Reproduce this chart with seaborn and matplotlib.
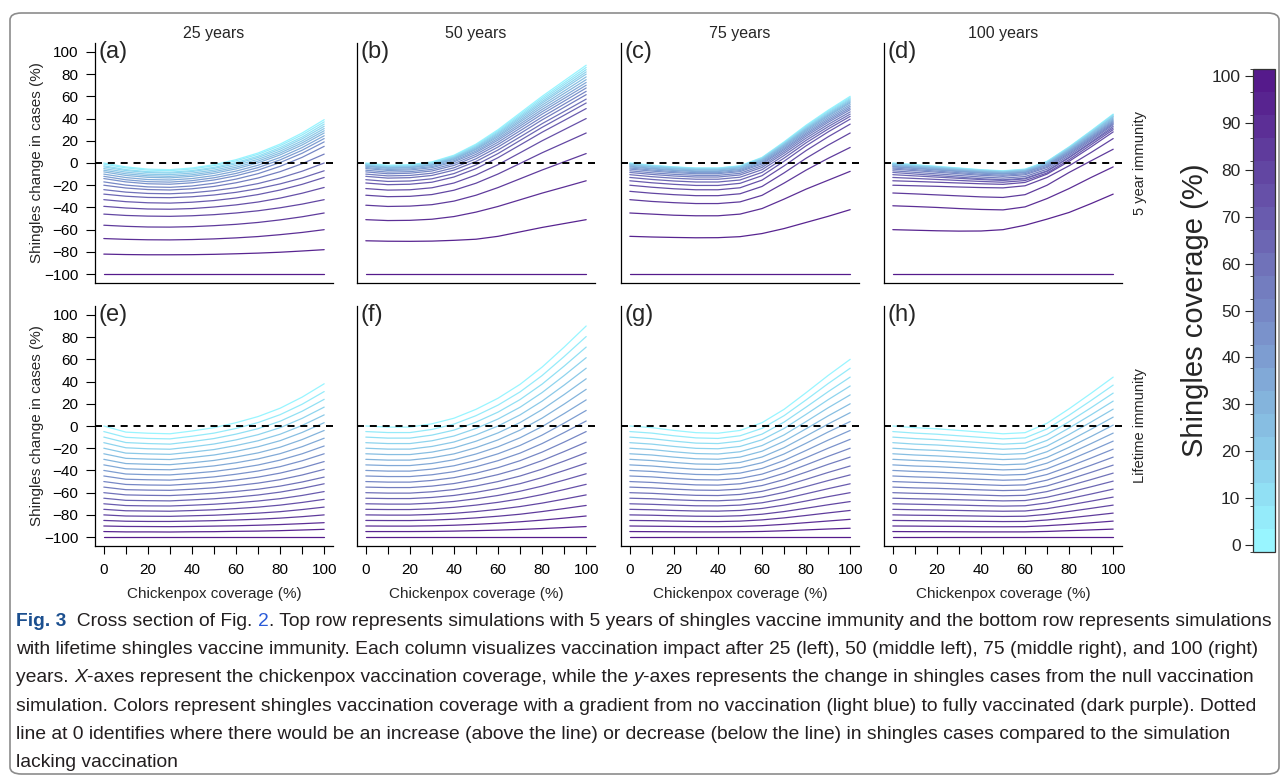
import numpy as np
import pandas as pd
import matplotlib
matplotlib.use("Agg")
import matplotlib.pyplot as plt
from matplotlib.colors import LinearSegmentedColormap, ListedColormap, BoundaryNorm
from matplotlib.cm import ScalarMappable
from matplotlib.patches import FancyBboxPatch
from matplotlib.font_manager import FontProperties
import seaborn as sns

# x grid (chickenpox coverage) and one line per shingles coverage level
chickenpox = [0, 10, 20, 30, 40, 50, 60, 70, 80, 90, 100]
shingles = [0, 5, 10, 15, 20, 25, 30, 35, 40, 45, 50, 55, 60, 65, 70, 75, 80, 85, 90, 95, 100]
years = ["25 years", "50 years", "75 years", "100 years"]
immunity = ["5 year immunity", "Lifetime immunity"]
tags = ["(a)", "(b)", "(c)", "(d)", "(e)", "(f)", "(g)", "(h)"]
cbar_ticks = [0, 10, 20, 30, 40, 50, 60, 70, 80, 90, 100]

# change in shingles cases (%), rows = shingles coverage 0..100, cols = chickenpox 0..100
five_25 = [
    [0, -3.5, -5.5, -6, -4.5, -1.5, 3, 9, 17, 27, 39],
    [-1, -4.4, -6.4, -6.9, -5.4, -2.4, 1.9, 7.8, 15.6, 25.3, 37],
    [-2.5, -5.9, -7.8, -8.3, -6.8, -3.9, 0.4, 6.2, 13.9, 23.4, 35],
    [-3.5, -6.8, -8.6, -9.1, -7.7, -4.9, -0.7, 4.9, 12.4, 21.8, 33],
    [-5, -8.2, -10.1, -10.5, -9.1, -6.4, -2.2, 3.3, 10.7, 19.9, 31],
    [-6.5, -9.7, -11.5, -12, -10.6, -7.8, -3.8, 1.7, 9, 18.1, 29],
    [-8, -11.2, -12.9, -13.4, -12, -9.3, -5.3, 0.1, 7.3, 16.2, 27],
    [-10, -13.1, -14.9, -15.3, -14, -11.3, -7.3, -2, 5, 13.9, 24.5],
    [-12, -15.1, -16.8, -17.2, -15.9, -13.3, -9.4, -4.1, 2.8, 11.5, 22],
    [-14, -17, -18.7, -19.1, -17.8, -15.3, -11.5, -6.4, 0.4, 8.8, 19],
    [-17, -19.9, -21.5, -21.9, -20.7, -18.2, -14.5, -9.6, -3, 5.1, 15],
    [-20, -22.5, -23.9, -24.3, -23.2, -21.1, -17.8, -13.5, -7.8, -0.6, 8],
    [-24, -26.2, -27.4, -27.7, -26.8, -24.9, -22.2, -18.5, -13.5, -7.4, 0],
    [-28, -29.9, -31, -31.2, -30.4, -28.8, -26.4, -23.1, -18.8, -13.5, -7],
    [-33, -34.8, -35.8, -36.1, -35.3, -33.8, -31.5, -28.4, -24.3, -19.2, -13],
    [-39, -40.5, -41.4, -41.6, -41, -39.6, -37.7, -35.1, -31.6, -27.2, -22],
    [-46, -47.2, -47.8, -48, -47.5, -46.5, -45, -43, -40.3, -37, -33],
    [-56, -57, -57.6, -57.7, -57.3, -56.4, -55.2, -53.5, -51.2, -48.4, -45],
    [-68, -68.7, -69.1, -69.2, -68.9, -68.3, -67.4, -66.2, -64.5, -62.5, -60],
    [-82, -82.4, -82.6, -82.6, -82.5, -82.2, -81.7, -81.1, -80.3, -79.2, -78],
    [-100, -100, -100, -100, -100, -100, -100, -100, -100, -100, -100],
]
five_50 = [
    [0, -2, -1.5, 1, 7, 17, 30, 45, 60, 74, 88],
    [-0.5, -2.5, -2, 0.5, 6.4, 16.2, 29, 43.7, 58.5, 72.2, 86],
    [-1, -3, -2.4, -0.1, 5.8, 15.4, 28, 42.4, 57, 70.5, 84],
    [-1.5, -3.4, -2.9, -0.6, 5.2, 14.6, 27, 41.2, 55.4, 68.7, 82],
    [-2, -3.9, -3.4, -1.1, 4.6, 13.8, 26, 39.9, 53.9, 67, 80],
    [-2.5, -4.3, -3.9, -1.6, 3.9, 12.9, 24.8, 38.4, 52.1, 64.8, 77.5],
    [-3, -4.8, -4.3, -2.1, 3.2, 12.1, 23.6, 36.9, 50.2, 62.6, 75],
    [-4, -5.8, -5.3, -3.2, 2.1, 10.8, 22.1, 35.1, 48.2, 60.3, 72.5],
    [-5, -6.7, -6.3, -4.2, 1, 9.5, 20.6, 33.3, 46.2, 58.1, 70],
    [-6.5, -8.2, -7.8, -5.7, -0.6, 7.8, 18.7, 31.3, 44, 55.7, 67.5],
    [-8, -9.7, -9.2, -7.2, -2.2, 6, 16.7, 29, 41.4, 53, 64.5],
    [-10, -11.6, -11.2, -9.2, -4.3, 3.8, 14.4, 26.5, 38.8, 50.1, 61.5],
    [-12, -13.6, -13.2, -11.2, -6.4, 1.4, 11.7, 23.5, 35.4, 46.4, 57.5],
    [-15, -16.6, -16.2, -14.2, -9.5, -1.7, 8.5, 20.3, 32.1, 43, 54],
    [-18, -19.5, -19.1, -17.3, -12.6, -5.1, 4.8, 16.2, 27.7, 38.3, 49],
    [-23, -24.4, -24.1, -22.3, -18, -10.8, -1.5, 9.2, 20, 30, 40],
    [-29, -30.3, -30, -28.4, -24.5, -18.2, -9.9, -0.4, 9.2, 18.1, 27],
    [-38, -39.1, -38.8, -37.5, -34.3, -29, -22.1, -14.2, -6.3, 1.1, 8.5],
    [-51, -51.8, -51.6, -50.6, -48.2, -44.2, -39.1, -33.1, -27.1, -21.6, -16],
    [-70, -70.4, -70.5, -70.3, -69.6, -68.6, -66, -62, -58, -54.5, -51],
    [-100, -100, -100, -100, -100, -100, -100, -100, -100, -100, -100],
]
five_75 = [
    [0, -2, -3.5, -4.5, -4.5, -2.5, 5, 19, 34, 47.5, 60],
    [-0.3, -2.3, -3.7, -4.7, -4.7, -2.8, 4.6, 18.5, 33.3, 46.7, 59],
    [-0.6, -2.5, -4, -5, -5, -3.1, 4.3, 18, 32.6, 45.8, 58],
    [-1, -2.9, -4.4, -5.4, -5.4, -3.4, 3.8, 17.4, 31.9, 44.9, 57],
    [-1.5, -3.4, -4.8, -5.8, -5.8, -3.9, 3.3, 16.7, 31.1, 44, 56],
    [-2, -3.9, -5.3, -6.3, -6.3, -4.4, 2.7, 16.1, 30.3, 43.1, 55],
    [-2.8, -4.7, -6.1, -7.1, -7.1, -5.2, 1.9, 15.2, 29.4, 42.2, 54],
    [-3.5, -5.3, -6.7, -7.7, -7.7, -5.9, 1.1, 14.3, 28.3, 40.9, 52.5],
    [-4.5, -6.3, -7.7, -8.7, -8.7, -6.8, 0.1, 13.1, 27, 39.5, 51],
    [-5.5, -7.3, -8.7, -9.6, -9.6, -7.8, -0.9, 11.9, 25.7, 38.1, 49.5],
    [-7, -8.8, -10.2, -11.1, -11.1, -9.3, -2.4, 10.4, 24.2, 36.6, 48],
    [-8.5, -10.3, -11.7, -12.6, -12.6, -10.8, -4, 8.8, 22.4, 34.7, 46],
    [-10.5, -12.3, -13.7, -14.6, -14.6, -12.8, -6, 6.8, 20.4, 32.7, 44],
    [-13, -14.8, -16.2, -17.1, -17.1, -15.3, -8.4, 4.4, 18.2, 30.6, 42],
    [-16, -17.8, -19.2, -20.2, -20.2, -18.3, -11.4, 1.6, 15.5, 28, 39.5],
    [-20, -21.8, -23.2, -24.1, -24.1, -22.3, -15.4, -2.6, 11.2, 23.6, 35],
    [-25.5, -27.2, -28.5, -29.4, -29.4, -27.7, -21.1, -8.9, 4.3, 16.1, 27],
    [-33, -34.6, -35.7, -36.5, -36.5, -35, -29.1, -18.1, -6.4, 4.2, 14],
    [-45, -46, -47, -47.5, -47.5, -46, -41, -32.5, -23.5, -15.5, -7.5],
    [-66, -66.6, -67, -67.3, -67.2, -66.3, -63.5, -59, -53.5, -48, -42],
    [-100, -100, -100, -100, -100, -100, -100, -100, -100, -100, -100],
]
five_100 = [
    [0, -1.5, -3, -4.5, -6, -7, -5.5, 1.5, 14.5, 29, 44],
    [-0.3, -1.8, -3.3, -4.8, -6.3, -7.3, -5.8, 1.2, 14.2, 28.6, 43.5],
    [-0.6, -2.1, -3.6, -5, -6.5, -7.5, -6.1, 0.9, 13.8, 28.1, 43],
    [-1, -2.5, -3.9, -5.4, -6.8, -7.8, -6.4, 0.5, 13.2, 27.3, 42],
    [-1.3, -2.8, -4.2, -5.7, -7.1, -8.1, -6.7, 0.2, 12.8, 26.9, 41.5],
    [-1.8, -3.2, -4.7, -6.1, -7.6, -8.5, -7.1, -0.4, 12.2, 26.1, 40.5],
    [-2.3, -3.7, -5.1, -6.6, -8, -8.9, -7.5, -0.9, 11.5, 25.2, 39.5],
    [-3, -4.4, -5.8, -7.2, -8.6, -9.6, -8.2, -1.6, 10.7, 24.3, 38.5],
    [-3.5, -4.9, -6.3, -7.7, -9.1, -10, -8.6, -2.1, 10, 23.5, 37.5],
    [-4.5, -5.9, -7.3, -8.7, -10.1, -11, -9.6, -3.1, 9, 22.5, 36.5],
    [-5.5, -6.9, -8.3, -9.7, -11.1, -12, -10.6, -4.1, 8, 21.5, 35.5],
    [-7, -8.4, -9.8, -11.2, -12.6, -13.6, -12.2, -5.6, 6.7, 20.3, 34.5],
    [-8.5, -9.9, -11.3, -12.7, -14.1, -15.1, -13.7, -7.1, 5.2, 18.8, 33],
    [-10.5, -11.6, -12.7, -13.8, -14.9, -15.7, -14.3, -7.5, 4.8, 18.2, 31.5],
    [-13, -13.9, -14.8, -15.7, -16.6, -17.3, -15.8, -9, 3, 16.5, 30],
    [-16, -16.6, -17.3, -18, -18.7, -19.2, -17.5, -10, 1.5, 14.5, 28],
    [-20, -20.5, -21, -21.6, -22.1, -22.4, -20.5, -13, -2.5, 9.5, 22],
    [-27, -27.8, -28.7, -29.6, -30.5, -31, -28.5, -20, -8.5, 2, 12.4],
    [-38.5, -39.2, -40, -41, -41.8, -42.2, -39.5, -32, -23, -13, -3.5],
    [-60, -60.5, -61, -61.3, -61.2, -60, -56, -50.5, -44.5, -36.5, -28],
    [-100, -100, -100, -100, -100, -100, -100, -100, -100, -100, -100],
]
life_25 = [
    [0, -5.5, -6.5, -7, -4.5, -1.5, 3, 8.5, 16, 26, 38],
    [-5, -10.2, -11.2, -11.6, -9.2, -6.4, -2.2, 3.1, 10.2, 19.6, 31],
    [-10, -14.9, -15.8, -16.3, -14, -11.3, -7.3, -2.4, 4.3, 13.3, 24],
    [-15, -19.6, -20.5, -20.9, -18.8, -16.2, -12.5, -7.8, -1.5, 6.9, 17],
    [-20, -24.4, -25.1, -25.5, -23.5, -21.2, -17.6, -13.3, -7.4, 0.5, 10],
    [-25, -29.1, -29.8, -30.2, -28.3, -26.1, -22.8, -18.7, -13.2, -5.8, 3],
    [-30, -33.8, -34.4, -34.8, -33.1, -31, -27.9, -24.2, -19.1, -12.2, -4],
    [-35, -38.5, -39.1, -39.4, -37.8, -35.9, -33.1, -29.6, -24.9, -18.6, -11],
    [-40, -43.2, -43.8, -44, -42.6, -40.9, -38.3, -35.1, -30.7, -25, -18],
    [-45, -47.9, -48.4, -48.7, -47.4, -45.8, -43.4, -40.5, -36.6, -31.3, -25],
    [-50, -52.6, -53.1, -53.3, -52.1, -50.7, -48.6, -46, -42.4, -37.7, -32],
    [-55, -57.3, -57.7, -57.9, -56.9, -55.6, -53.7, -51.4, -48.3, -44.1, -39],
    [-60, -62, -62.4, -62.6, -61.7, -60.5, -58.9, -56.9, -54.1, -50.4, -46],
    [-65, -66.9, -67.2, -67.4, -66.5, -65.5, -64, -62.1, -59.5, -56.1, -52],
    [-70, -71.6, -71.9, -72, -71.3, -70.4, -69.1, -67.5, -65.4, -62.5, -59],
    [-75, -76.3, -76.5, -76.7, -76.1, -75.4, -74.3, -73, -71.2, -68.8, -66],
    [-80, -81, -81.2, -81.3, -80.8, -80.3, -79.4, -78.4, -77.1, -75.2, -73],
    [-85, -85.7, -85.9, -85.9, -85.6, -85.2, -84.6, -83.9, -82.9, -81.6, -80],
    [-90, -90.4, -90.5, -90.6, -90.4, -90.1, -89.8, -89.3, -88.7, -87.9, -87],
    [-95, -95.3, -95.3, -95.4, -95.2, -95.1, -94.8, -94.6, -94.2, -93.6, -93],
    [-100, -100, -100, -100, -100, -100, -100, -100, -100, -100, -100],
]
life_50 = [
    [0, -1, -1, 2, 7, 15, 25, 37.5, 53, 71, 90],
    [-5, -5.9, -5.9, -3.1, 1.7, 9.3, 18.8, 30.7, 45.4, 62.5, 80.5],
    [-10, -10.9, -10.9, -8.2, -3.7, 3.5, 12.5, 23.8, 37.7, 53.9, 71],
    [-15, -15.8, -15.8, -13.3, -9, -2.2, 6.3, 16.9, 30.1, 45.4, 61.5],
    [-20, -20.8, -20.8, -18.4, -14.4, -8, 0, 10, 22.4, 36.8, 52],
    [-25, -25.7, -25.7, -23.5, -19.7, -13.7, -6.2, 3.1, 14.8, 28.3, 42.5],
    [-30, -30.7, -30.7, -28.6, -25.1, -19.5, -12.5, -3.7, 7.1, 19.7, 33],
    [-35, -35.6, -35.6, -33.7, -30.4, -25.2, -18.7, -10.6, -0.5, 11.2, 23.5],
    [-40, -40.6, -40.6, -38.8, -35.8, -31, -25, -17.5, -8.2, 2.6, 14],
    [-45, -45.5, -45.5, -43.9, -41.1, -36.7, -31.2, -24.4, -15.8, -5.9, 4.5],
    [-50, -50.5, -50.5, -49, -46.5, -42.5, -37.5, -31.2, -23.5, -14.5, -5],
    [-55, -55.4, -55.4, -54.1, -51.8, -48.2, -43.7, -38.1, -31.1, -23, -14.5],
    [-60, -60.4, -60.4, -59.2, -57.2, -54, -50, -45, -38.8, -31.6, -24],
    [-65, -65.3, -65.3, -64.3, -62.5, -59.7, -56.2, -51.9, -46.4, -40.1, -33.5],
    [-70, -70.3, -70.3, -69.4, -67.9, -65.5, -62.5, -58.7, -54.1, -48.7, -43],
    [-75, -75.2, -75.2, -74.5, -73.2, -71.2, -68.7, -65.6, -61.7, -57.2, -52.5],
    [-80, -80.2, -80.2, -79.6, -78.6, -77, -75, -72.5, -69.4, -65.8, -62],
    [-85, -85.1, -85.1, -84.7, -83.9, -82.7, -81.2, -79.4, -77, -74.3, -71.5],
    [-90, -90.1, -90.1, -89.8, -89.3, -88.5, -87.5, -86.2, -84.7, -82.9, -81],
    [-95, -95, -95, -94.9, -94.6, -94.2, -93.7, -93.1, -92.3, -91.4, -90.5],
    [-100, -100, -100, -100, -100, -100, -100, -100, -100, -100, -100],
]
life_75 = [
    [0, -1.5, -4, -6, -6.5, -4, 3, 15, 30, 45.5, 60],
    [-5, -6.4, -8.8, -10.7, -11.2, -8.8, -2.1, 9.3, 23.5, 38.2, 52],
    [-10, -11.4, -13.6, -15.4, -15.8, -13.6, -7.3, 3.5, 17, 30.9, 44],
    [-15, -16.3, -18.4, -20.1, -20.5, -18.4, -12.4, -2.2, 10.5, 23.7, 36],
    [-20, -21.2, -23.2, -24.8, -25.2, -23.2, -17.6, -8, 4, 16.4, 28],
    [-25, -26.1, -28, -29.5, -29.9, -28, -22.7, -13.7, -2.5, 9.1, 20],
    [-30, -31.1, -32.8, -34.2, -34.5, -32.8, -27.9, -19.5, -9, 1.8, 12],
    [-35, -36, -37.6, -38.9, -39.2, -37.6, -33, -25.2, -15.5, -5.4, 4],
    [-40, -40.9, -42.4, -43.6, -43.9, -42.4, -38.2, -31, -22, -12.7, -4],
    [-45, -45.8, -47.2, -48.3, -48.6, -47.2, -43.3, -36.7, -28.5, -20, -12],
    [-50, -50.8, -52, -53, -53.2, -52, -48.5, -42.5, -35, -27.3, -20],
    [-55, -55.7, -56.8, -57.7, -57.9, -56.8, -53.6, -48.2, -41.5, -34.5, -28],
    [-60, -60.6, -61.6, -62.4, -62.6, -61.6, -58.8, -54, -48, -41.8, -36],
    [-65, -65.5, -66.4, -67.1, -67.3, -66.4, -63.9, -59.7, -54.5, -49.1, -44],
    [-70, -70.5, -71.2, -71.8, -71.9, -71.2, -69.1, -65.5, -61, -56.4, -52],
    [-75, -75.4, -76, -76.5, -76.6, -76, -74.2, -71.2, -67.5, -63.6, -60],
    [-80, -80.3, -80.8, -81.2, -81.3, -80.8, -79.4, -77, -74, -70.9, -68],
    [-85, -85.2, -85.6, -85.9, -86, -85.6, -84.5, -82.7, -80.5, -78.2, -76],
    [-90, -90.2, -90.4, -90.6, -90.6, -90.4, -89.7, -88.5, -87, -85.5, -84],
    [-95, -95.1, -95.2, -95.3, -95.3, -95.2, -94.9, -94.3, -93.5, -92.7, -92],
    [-100, -100, -100, -100, -100, -100, -100, -100, -100, -100, -100],
]
life_100 = [
    [0, -1.5, -2.5, -4, -5.5, -7, -6, 2.5, 15.5, 29.5, 44],
    [-5, -6.4, -7.4, -8.8, -10.2, -11.6, -10.7, -2.6, 9.7, 23, 36.8],
    [-10, -11.3, -12.3, -13.6, -15, -16.3, -15.4, -7.7, 3.9, 16.5, 29.6],
    [-15, -16.3, -17.1, -18.4, -19.7, -20.9, -20.1, -12.9, -1.8, 10.1, 22.4],
    [-20, -21.2, -22, -23.2, -24.4, -25.6, -24.8, -18, -7.6, 3.6, 15.2],
    [-25, -26.1, -26.9, -28, -29.1, -30.2, -29.5, -23.1, -13.4, -2.9, 8],
    [-30, -31, -31.8, -32.8, -33.9, -34.9, -34.2, -28.2, -19.2, -9.4, 0.8],
    [-35, -36, -36.6, -37.6, -38.6, -39.5, -38.9, -33.4, -24.9, -15.8, -6.4],
    [-40, -40.9, -41.5, -42.4, -43.3, -44.2, -43.6, -38.5, -30.7, -22.3, -13.6],
    [-45, -45.8, -46.4, -47.2, -48, -48.8, -48.3, -43.6, -36.5, -28.8, -20.8],
    [-50, -50.7, -51.3, -52, -52.8, -53.5, -53, -48.7, -42.3, -35.3, -28],
    [-55, -55.7, -56.1, -56.8, -57.5, -58.1, -57.7, -53.9, -48, -41.7, -35.2],
    [-60, -60.6, -61, -61.6, -62.2, -62.8, -62.4, -59, -53.8, -48.2, -42.4],
    [-65, -65.5, -65.9, -66.4, -66.9, -67.4, -67.1, -64.1, -59.6, -54.7, -49.6],
    [-70, -70.4, -70.8, -71.2, -71.7, -72.1, -71.8, -69.2, -65.4, -61.2, -56.8],
    [-75, -75.4, -75.6, -76, -76.4, -76.7, -76.5, -74.4, -71.1, -67.6, -64],
    [-80, -80.3, -80.5, -80.8, -81.1, -81.4, -81.2, -79.5, -76.9, -74.1, -71.2],
    [-85, -85.2, -85.4, -85.6, -85.8, -86, -85.9, -84.6, -82.7, -80.6, -78.4],
    [-90, -90.1, -90.3, -90.4, -90.6, -90.7, -90.6, -89.7, -88.5, -87.1, -85.6],
    [-95, -95.1, -95.1, -95.2, -95.3, -95.3, -95.3, -94.9, -94.2, -93.5, -92.8],
    [-100, -100, -100, -100, -100, -100, -100, -100, -100, -100, -100],
]

panels = [[five_25, five_50, five_75, five_100],
          [life_25, life_50, life_75, life_100]]

records = []
for r, row in enumerate(panels):
    for c, table in enumerate(row):
        for s, vals in zip(shingles, table):
            for x, v in zip(chickenpox, vals):
                records.append((r, c, s, x, v))
df = pd.DataFrame(records, columns=["row", "col", "shingles", "chickenpox", "change"])

sns.set_style("white")
plt.rcParams["font.family"] = ["Liberation Sans", "DejaVu Sans"]
plt.rcParams["axes.unicode_minus"] = True

W, H = 1287, 776
fig = plt.figure(figsize=(W / 100, H / 100), dpi=100)
cmap = LinearSegmentedColormap.from_list("shingles", ["#98F5FF", "#551A8B"])


def box(left, top, w, h):
    return [left / W, 1 - (top + h) / H, w / W, h / H]


def fx(px):
    return px / W


def fy(py):
    return 1 - py / H


# rounded frame
fig.patches.append(FancyBboxPatch((fx(10), fy(774)), fx(1279) - fx(10), fy(13) - fy(774),
                                  boxstyle="round,pad=0,rounding_size=0.009",
                                  transform=fig.transFigure, fc="none", ec="#8c8c8c", lw=1.2))

lefts = [95, 357, 621, 884]
tops = [43, 306]
aw, ah = 238, 240
for r in range(2):
    for c in range(4):
        ax = fig.add_axes(box(lefts[c], tops[r], aw, ah))
        sub = df[(df["row"] == r) & (df["col"] == c)]
        sns.lineplot(data=sub, x="chickenpox", y="change", hue="shingles",
                     palette=cmap, hue_norm=(0, 100), estimator=None,
                     legend=False, lw=0.9, ax=ax)
        ax.axhline(0, color="black", lw=1.4, ls=(0, (3.6, 3.0)), zorder=5)
        ax.set_xlim(-4, 104)
        ax.set_ylim(-108, 108)
        ax.set_facecolor("none")
        for side in ["top", "right"]:
            ax.spines[side].set_visible(False)
        for side in ["left", "bottom"]:
            ax.spines[side].set_color("black")
            ax.spines[side].set_linewidth(0.9)
        ax.set_xlabel("")
        ax.set_ylabel("")
        if c == 0:
            ax.set_yticks(range(-100, 101, 20))
            ax.tick_params(axis="y", length=6.5, width=0.8, labelsize=11, pad=5.5,
                           left=True, colors="black")
        else:
            ax.set_yticks([])
        if r == 1:
            ax.set_xticks(chickenpox)
            ax.set_xticklabels([str(v) if v % 20 == 0 else "" for v in chickenpox])
            ax.tick_params(axis="x", length=5.5, width=0.8, labelsize=11, pad=7,
                           bottom=True, colors="black")
        else:
            ax.set_xticks([])
        fig.text(fx(lefts[c] + 4), fy(tops[r] - 2), tags[r * 4 + c], fontsize=17,
                 ha="left", va="top")
        cx = lefts[c] + aw / 2
        if r == 0:
            fig.text(fx(cx), fy(38), years[c], fontsize=11.5, ha="center", va="baseline")
        else:
            fig.text(fx(cx), fy(594), "Chickenpox coverage (%)", fontsize=11,
                     ha="center", va="center")
    fig.text(fx(37), fy(tops[r] + ah / 2), "Shingles change in cases (%)", fontsize=11,
             rotation=90, ha="center", va="center")
    fig.text(fx(1140), fy(tops[r] + ah / 2), immunity[r], fontsize=10.5,
             rotation=90, ha="center", va="center")

# discrete colour key
cax = fig.add_axes(box(1253, 69, 22, 483))
colors21 = [cmap(s / 100) for s in shingles]
bounds = np.linspace(-1.4, 101.4, len(shingles) + 1)
sm = ScalarMappable(norm=BoundaryNorm(bounds, len(shingles)), cmap=ListedColormap(colors21))
cb = fig.colorbar(sm, cax=cax, ticks=cbar_ticks, spacing="proportional")
cax.yaxis.set_ticks_position("left")
cax.tick_params(length=6, width=0.8, labelsize=12.5, pad=3)
cb.outline.set_edgecolor("#333333")
cb.outline.set_linewidth(0.9)
fig.text(fx(1195), fy(310), "Shingles coverage (%)", fontsize=21, rotation=90,
         ha="center", va="center")

# caption with mixed styling
cap_family = ["Liberation Sans Narrow", "Liberation Sans", "DejaVu Sans"]
styles = {
    "n": dict(color="#231F20", weight="normal", style="normal"),
    "fig": dict(color="#1B4F8F", weight="bold", style="normal"),
    "link": dict(color="#2B5BD8", weight="normal", style="normal"),
    "i": dict(color="#231F20", weight="normal", style="italic"),
}
caption = [
    [("Fig. 3", "fig"), ("  Cross section of Fig. ", "n"), ("2", "link"),
     (". Top row represents simulations with 5 years of shingles vaccine immunity and the bottom row represents simulations", "n")],
    [("with lifetime shingles vaccine immunity. Each column visualizes vaccination impact after 25 (left), 50 (middle left), 75 (middle right), and 100 (right)", "n")],
    [("years. ", "n"), ("X", "i"), ("-axes represent the chickenpox vaccination coverage, while the ", "n"),
     ("y", "i"), ("-axes represents the change in shingles cases from the null vaccination", "n")],
    [("simulation. Colors represent shingles vaccination coverage with a gradient from no vaccination (light blue) to fully vaccinated (dark purple). Dotted", "n")],
    [("line at 0 identifies where there would be an increase (above the line) or decrease (below the line) in shingles cases compared to the simulation", "n")],
    [("lacking vaccination", "n")],
]

renderer = fig.canvas.get_renderer()


def run_width(text, key, size):
    st = styles[key]
    prop = FontProperties(family=cap_family, size=size, weight=st["weight"], style=st["style"])
    w1 = renderer.get_text_width_height_descent(text + "|", prop, ismath=False)[0]
    w2 = renderer.get_text_width_height_descent("|", prop, ismath=False)[0]
    return w1 - w2


base = 12.0
first_w = sum(run_width(t, k, base) for t, k in caption[0])
cap_size = base * (1258 / first_w)

for i, line in enumerate(caption):
    x = 16.0
    y = 626 + 28.2 * i
    for text, key in line:
        st = styles[key]
        fig.text(fx(x), fy(y), text, fontsize=cap_size, family=cap_family,
                 color=st["color"], weight=st["weight"], style=st["style"],
                 ha="left", va="baseline")
        x += run_width(text, key, cap_size)

fig.savefig("out.png", dpi=100)
